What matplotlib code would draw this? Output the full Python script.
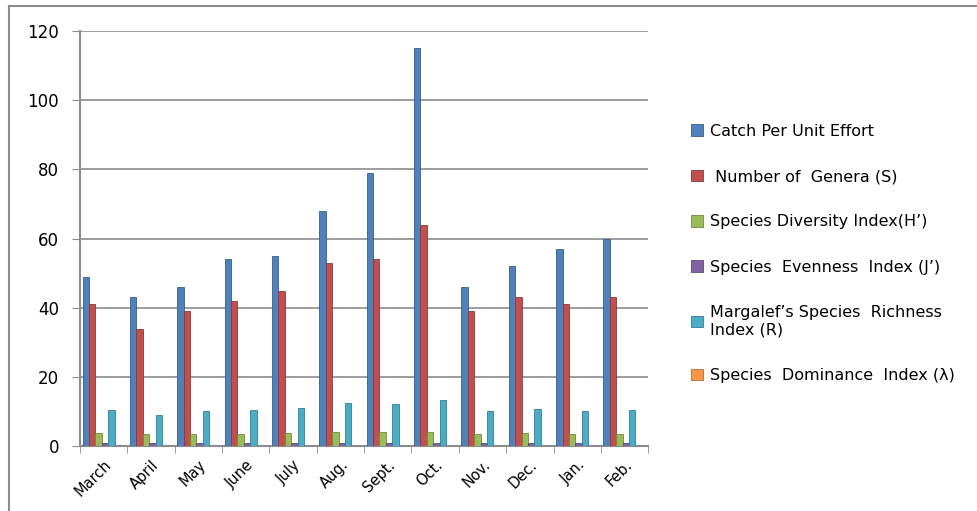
import numpy as np
import matplotlib
matplotlib.use("Agg")
import matplotlib.pyplot as plt
from matplotlib.lines import Line2D

months = ["March", "April", "May", "June", "July", "Aug.", "Sept.", "Oct.",
          "Nov.", "Dec.", "Jan.", "Feb."]
cpue = [49, 43, 46, 54, 55, 68, 79, 115, 46, 52, 57, 60]
genera = [41, 34, 39, 42, 45, 53, 54, 64, 39, 43, 41, 43]
diversity = [3.7, 3.5, 3.6, 3.6, 3.7, 4.0, 4.0, 4.2, 3.6, 3.7, 3.6, 3.6]
evenness = [0.9, 0.9, 0.9, 0.9, 0.9, 0.9, 0.9, 0.9, 0.9, 0.9, 0.9, 0.9]
richness = [10.4, 8.9, 10.1, 10.4, 11.1, 12.4, 12.3, 13.4, 10.1, 10.7, 10.1, 10.4]
dominance = [0.1, 0.1, 0.1, 0.1, 0.1, 0.1, 0.1, 0.1, 0.1, 0.1, 0.1, 0.1]

series = [cpue, genera, diversity, evenness, richness, dominance]
labels = ["Catch Per Unit Effort", " Number of  Genera (S)",
          "Species Diversity Index(H\u2019)", "Species  Evenness  Index (J\u2019)",
          "Margalef\u2019s Species  Richness\nIndex (R)",
          "Species  Dominance  Index (\u03bb)"]
colors = ["#4F81BD", "#C0504D", "#9BBB59", "#8064A2", "#4BACC6", "#F79646"]
edges = ["#385D8A", "#8C3836", "#71893F", "#5C4776", "#357D91", "#B66D31"]

plt.rcParams['font.family'] = ['DejaVu Sans']

fig = plt.figure(figsize=(9.78, 5.11), dpi=100)
ax = fig.add_axes([0.0818, 0.127, 0.581, 0.812])

x = np.arange(len(months))
w = 0.135
for i, (vals, lab, c, ec) in enumerate(zip(series, labels, colors, edges)):
    ax.bar(x + (i - 2.5) * w - 0.04, vals, w, color=c, edgecolor=ec,
           linewidth=0.6, label=lab, zorder=3)

ax.set_xlim(-0.5, len(months) - 0.5)
ax.set_ylim(0, 120)
ax.set_yticks(np.arange(0, 121, 20))
ax.yaxis.grid(True, color="#8C8C8C", linewidth=1.2, zorder=0)
ax.set_xticks(x)
ax.set_xticklabels(months, rotation=45, ha="right", rotation_mode="anchor",
                   fontsize=10.5)
ax.set_xticks(np.arange(-0.5, len(months)), minor=True)
ax.tick_params(axis="x", which="major", length=0, pad=8)
ax.tick_params(axis="x", which="minor", length=5, color="#8C8C8C")
ax.tick_params(axis="y", length=6, color="#8C8C8C", labelsize=12, pad=9)
for s in ["top", "right"]:
    ax.spines[s].set_visible(False)
for s in ["left", "bottom"]:
    ax.spines[s].set_color("#8C8C8C")
    ax.spines[s].set_linewidth(1.5)

fig.legend(loc="upper left", bbox_to_anchor=(0.692, 0.786), frameon=False,
           fontsize=11.5, labelspacing=1.9, handlelength=0.72,
           handleheight=0.72, handletextpad=0.45)

# outer chart frame: only top and left edges are visible in the crop
fig.add_artist(Line2D([0.009, 1.0], [0.989, 0.989], transform=fig.transFigure,
                      color="#8C8C8C", linewidth=1.5))
fig.add_artist(Line2D([0.009, 0.009], [0.0, 0.989], transform=fig.transFigure,
                      color="#8C8C8C", linewidth=1.5))

fig.savefig("out.png", dpi=100)
